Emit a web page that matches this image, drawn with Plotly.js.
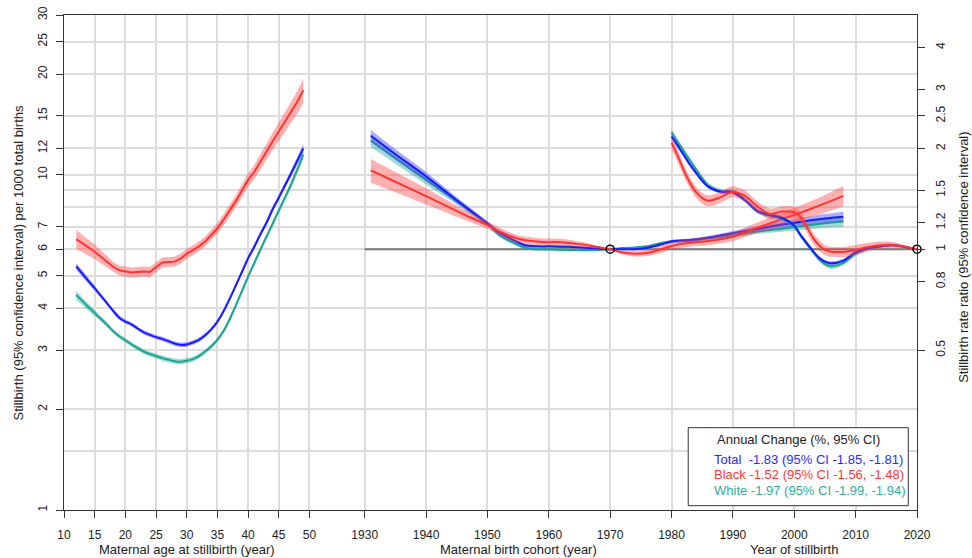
<!DOCTYPE html>
<html><head><meta charset="utf-8">
<script src="https://cdn.plot.ly/plotly-3.0.1.min.js"></script>
<style>html,body{margin:0;padding:0;background:#fff}#chart{width:972px;height:558px}</style>
</head><body><div id="chart"></div><script>
// ---------- DATA ----------
// Maternal age panel: stillbirths per 1000 total births
const ageX = [12,13,14,15,16,17,18,19,20,21,22,23,24,25,26,27,28,29,30,31,32,33,34,35,36,37,38,39,40,41,42,43,44,45,46,47,48,49];
const ageTotal   = [5.33,5.07,4.82,4.59,4.36,4.14,3.93,3.75,3.65,3.58,3.48,3.39,3.33,3.28,3.24,3.19,3.14,3.11,3.12,3.16,3.22,3.32,3.46,3.65,3.92,4.27,4.68,5.13,5.64,6.10,6.65,7.20,7.90,8.55,9.30,10.1,11.0,12.0];
const ageTotalLo = [5.20,4.96,4.72,4.51,4.29,4.08,3.87,3.69,3.60,3.53,3.43,3.34,3.28,3.23,3.19,3.14,3.09,3.06,3.07,3.11,3.17,3.27,3.41,3.60,3.86,4.21,4.60,5.05,5.54,6.00,6.53,7.07,7.74,8.38,9.10,9.86,10.70,11.64];
const ageTotalHi = [5.46,5.18,4.92,4.67,4.43,4.20,3.99,3.81,3.70,3.63,3.53,3.44,3.38,3.33,3.29,3.24,3.19,3.16,3.17,3.21,3.27,3.37,3.51,3.70,3.98,4.33,4.76,5.21,5.74,6.20,6.77,7.33,8.06,8.72,9.50,10.34,11.30,12.36];
const ageBlack   = [6.43,6.26,6.07,5.90,5.70,5.51,5.32,5.19,5.14,5.11,5.13,5.15,5.13,5.30,5.48,5.50,5.51,5.62,5.82,5.96,6.12,6.33,6.62,6.93,7.35,7.82,8.35,8.98,9.66,10.2,10.9,11.75,12.6,13.45,14.4,15.4,16.5,17.9];
const ageBlackLo = [6.01,5.88,5.74,5.61,5.44,5.29,5.13,5.01,4.96,4.93,4.95,4.97,4.95,5.11,5.29,5.31,5.32,5.42,5.62,5.75,5.91,6.11,6.39,6.67,7.06,7.51,8.00,8.58,9.20,9.69,10.32,11.09,11.84,12.59,13.42,14.29,15.23,16.43];
const ageBlackHi = [6.85,6.64,6.40,6.20,5.96,5.73,5.51,5.37,5.32,5.29,5.31,5.33,5.31,5.49,5.67,5.69,5.70,5.82,6.02,6.17,6.33,6.55,6.85,7.19,7.64,8.13,8.70,9.38,10.12,10.71,11.48,12.41,13.36,14.31,15.38,16.51,17.77,19.37];
const ageWhite   = [4.38,4.20,4.03,3.87,3.72,3.57,3.42,3.30,3.21,3.12,3.04,2.97,2.92,2.88,2.84,2.81,2.78,2.77,2.79,2.82,2.88,2.97,3.08,3.22,3.42,3.71,4.08,4.50,4.97,5.45,5.98,6.55,7.15,7.82,8.55,9.35,10.35,11.5];
const ageWhiteLo = [4.25,4.09,3.93,3.79,3.65,3.51,3.37,3.25,3.16,3.07,2.99,2.92,2.87,2.83,2.79,2.76,2.73,2.72,2.74,2.77,2.83,2.92,3.03,3.17,3.36,3.65,4.01,4.43,4.89,5.36,5.88,6.43,7.01,7.66,8.36,9.13,10.08,11.16];
const ageWhiteHi = [4.51,4.31,4.13,3.95,3.79,3.63,3.47,3.35,3.26,3.17,3.09,3.02,2.97,2.93,2.89,2.86,2.83,2.82,2.84,2.87,2.93,3.02,3.13,3.27,3.48,3.77,4.15,4.57,5.05,5.54,6.08,6.67,7.29,7.98,8.74,9.57,10.62,11.84];

// Maternal birth cohort panel: rate ratio (reference cohort 1970)
const cohortX = [1931,1935,1940,1945,1950,1952,1954,1956,1958,1960,1962,1964,1966,1968,1970,1972,1974,1976,1978,1980,1983,1986,1990,1994,1998,2002,2005,2008];
const cohTotal   = [2.18,1.92,1.65,1.40,1.195,1.12,1.07,1.03,1.02,1.02,1.018,1.015,1.01,1.005,1.0,1.0,1.0,1.01,1.03,1.055,1.065,1.082,1.117,1.15,1.185,1.215,1.235,1.25];
const cohTotalLo = [2.09,1.85,1.60,1.37,1.177,1.105,1.057,1.019,1.01,1.01,1.008,1.007,1.004,1.001,1.0,0.996,0.994,1.002,1.02,1.044,1.054,1.069,1.10,1.129,1.159,1.182,1.197,1.206];
const cohTotalHi = [2.27,1.99,1.70,1.43,1.213,1.135,1.083,1.041,1.03,1.03,1.028,1.023,1.016,1.009,1.0,1.004,1.006,1.018,1.04,1.066,1.076,1.095,1.134,1.171,1.211,1.248,1.273,1.294];
const cohBlack   = [1.72,1.59,1.44,1.30,1.18,1.13,1.09,1.065,1.055,1.05,1.05,1.04,1.03,1.015,1.0,0.978,0.97,0.975,0.995,1.023,1.045,1.058,1.09,1.16,1.23,1.305,1.37,1.443];
const cohBlackLo = [1.58,1.48,1.36,1.25,1.15,1.10,1.063,1.038,1.029,1.024,1.026,1.019,1.014,1.005,1.0,0.966,0.951,0.954,0.971,0.997,1.018,1.028,1.057,1.119,1.177,1.237,1.288,1.342];
const cohBlackHi = [1.86,1.70,1.52,1.35,1.21,1.16,1.117,1.092,1.081,1.076,1.074,1.061,1.046,1.025,1.0,0.99,0.989,0.996,1.019,1.049,1.072,1.088,1.123,1.201,1.283,1.373,1.452,1.544];
const cohWhite   = [2.11,1.87,1.61,1.39,1.19,1.10,1.05,1.012,1.0,1.0,0.996,0.994,0.993,0.995,1.0,1.008,1.012,1.02,1.04,1.055,1.06,1.078,1.10,1.13,1.152,1.177,1.195,1.21];
const cohWhiteLo = [2.02,1.80,1.56,1.36,1.172,1.086,1.037,1.001,0.99,0.99,0.986,0.986,0.987,0.991,1.0,1.004,1.006,1.012,1.03,1.044,1.049,1.065,1.084,1.11,1.127,1.145,1.158,1.168];
const cohWhiteHi = [2.20,1.94,1.66,1.42,1.208,1.114,1.063,1.023,1.01,1.01,1.006,1.002,0.999,0.999,1.0,1.012,1.018,1.028,1.05,1.066,1.071,1.091,1.117,1.15,1.177,1.209,1.232,1.252];

// Year of stillbirth panel: rate ratio (reference year 2020)
const periodX = [1980,1981,1982,1983,1984,1985,1986,1988,1990,1992,1994,1996,1998,2000,2001,2002,2003,2004,2005,2006,2008,2010,2012,2014,2016,2018,2020];
const perTotal   = [2.17,2.04,1.91,1.79,1.69,1.60,1.535,1.485,1.48,1.40,1.30,1.265,1.24,1.175,1.105,1.045,0.99,0.945,0.918,0.908,0.925,0.98,1.008,1.02,1.028,1.015,1.0];
const perTotalLo = [2.127,2.003,1.879,1.763,1.666,1.579,1.517,1.467,1.462,1.383,1.284,1.250,1.225,1.161,1.092,1.032,0.978,0.934,0.907,0.897,0.914,0.968,0.998,1.01,1.020,1.01,1.0];
const perTotalHi = [2.213,2.077,1.941,1.817,1.714,1.621,1.553,1.503,1.498,1.417,1.316,1.280,1.255,1.189,1.118,1.058,1.002,0.956,0.929,0.919,0.936,0.992,1.018,1.030,1.036,1.020,1.0];
const perBlack   = [2.08,1.90,1.72,1.58,1.48,1.42,1.395,1.43,1.485,1.44,1.34,1.275,1.295,1.29,1.25,1.17,1.085,1.03,0.995,0.983,0.982,0.995,1.015,1.028,1.03,1.018,1.0];
const perBlackLo = [1.986,1.820,1.651,1.520,1.424,1.366,1.342,1.376,1.429,1.385,1.289,1.227,1.246,1.241,1.203,1.126,1.044,0.991,0.960,0.949,0.948,0.960,0.985,1.002,1.009,1.006,1.0];
const perBlackHi = [2.174,1.980,1.789,1.640,1.536,1.474,1.448,1.484,1.541,1.495,1.391,1.323,1.344,1.339,1.298,1.214,1.126,1.069,1.030,1.017,1.016,1.030,1.045,1.054,1.051,1.030,1.0];
const perWhite   = [2.23,2.09,1.96,1.84,1.73,1.63,1.55,1.49,1.485,1.40,1.30,1.26,1.235,1.17,1.10,1.04,0.985,0.935,0.903,0.889,0.91,0.97,1.005,1.02,1.03,1.015,1.0];
const perWhiteLo = [2.174,2.042,1.919,1.805,1.701,1.604,1.525,1.466,1.461,1.378,1.279,1.240,1.215,1.151,1.082,1.023,0.969,0.920,0.888,0.873,0.895,0.955,0.993,1.010,1.022,1.010,1.0];
const perWhiteHi = [2.286,2.138,2.001,1.875,1.759,1.656,1.575,1.514,1.509,1.422,1.321,1.280,1.255,1.189,1.118,1.057,1.001,0.950,0.918,0.905,0.925,0.985,1.017,1.030,1.038,1.020,1.0];

// Reference line (ratio 1) and reference points
const refLineYears = [1930, 2020];
const refLineRatio = [1, 1];
const refPointYears = [1970, 2020];
const refPointRatio = [1, 1];

// Annual change box
const groupNames = ['Total', 'Black', 'White'];
const annualChange = [-1.83, -1.52, -1.97];
const annualLow = [-1.85, -1.56, -1.99];
const annualHigh = [-1.81, -1.48, -1.94];

// Tick labels
const ageTicks = [10,15,20,25,30,35,40,45,50];
const yearTicks = [1930,1940,1950,1960,1970,1980,1990,2000,2010,2020];
const leftTicks = [1,2,3,4,5,6,7,10,12,15,20,25,30];
const leftGrid = [1.5,2,3,4,5,6,7,8,9,10,12,15,20,25,30];
const ratioTicks = [0.5,0.8,1,1.2,1.5,2,2.5,3,4];

// ---------- DRAWING ----------
const OFFSET = 1871; // years placed to the right of the age panel on one shared axis
const shift = a => a.map(v => v - OFFSET);
const COLORS = {Total:'#1a1aff', Black:'#ff3333', White:'#1fa392'};
const BANDS = {Total:'rgba(70,70,255,0.45)', Black:'rgba(255,70,70,0.42)', White:'rgba(30,170,150,0.42)'};
const TEXTC = {Total:'#2b2bff', Black:'#ff3535', White:'#2aaf9f'};

const traces = [];
// empty trace so that the left tick/label axis (y3) gets drawn
traces.push({x: [], y: [], yaxis:'y3', mode:'lines', hoverinfo:'skip', showlegend:false});

function addSeries(xs, mid, lo, hi, name, yaxis, shape) {
  traces.push({x: xs, y: lo, yaxis, mode:'lines', line:{width:0, shape, smoothing:0.8}, hoverinfo:'skip', showlegend:false});
  traces.push({x: xs, y: hi, yaxis, mode:'lines', line:{width:0, shape, smoothing:0.8}, fill:'tonexty', fillcolor:BANDS[name], hoverinfo:'skip', showlegend:false});
  traces.push({x: xs, y: mid, yaxis, mode:'lines', line:{color:COLORS[name], width:2, shape, smoothing:0.8}, name, showlegend:false});
}
traces.push({x: shift(refLineYears), y: refLineRatio, yaxis:'y2', mode:'lines', line:{color:'#777', width:2}, hoverinfo:'skip', showlegend:false});

addSeries(ageX, ageWhite, ageWhiteLo, ageWhiteHi, 'White', 'y', 'spline');
addSeries(ageX, ageTotal, ageTotalLo, ageTotalHi, 'Total', 'y', 'spline');
addSeries(ageX, ageBlack, ageBlackLo, ageBlackHi, 'Black', 'y', 'linear');

const cx = shift(cohortX), px = shift(periodX);
addSeries(cx, cohWhite, cohWhiteLo, cohWhiteHi, 'White', 'y2', 'spline');
addSeries(cx, cohTotal, cohTotalLo, cohTotalHi, 'Total', 'y2', 'spline');
addSeries(cx, cohBlack, cohBlackLo, cohBlackHi, 'Black', 'y2', 'spline');
addSeries(px, perWhite, perWhiteLo, perWhiteHi, 'White', 'y2', 'spline');
addSeries(px, perTotal, perTotalLo, perTotalHi, 'Total', 'y2', 'spline');
addSeries(px, perBlack, perBlackLo, perBlackHi, 'Black', 'y2', 'spline');

traces.push({x: shift(refPointYears), y: refPointRatio, yaxis:'y2', mode:'markers', cliponaxis:false,
  marker:{symbol:'circle-open', size:8, color:'#111', line:{width:1.6, color:'#111'}}, hoverinfo:'skip', showlegend:false});

const FONT = 'Liberation Sans, Arial, Helvetica, sans-serif';
const xTickVals = ageTicks.concat(shift(yearTicks));
const xTickText = ageTicks.map(String).concat(yearTicks.map(String));

const fmt = v => v.toFixed(2);
const A = (o) => Object.assign({showarrow:false, xanchor:'center', yanchor:'middle'}, o);
const annotations = [
  A({xref:'x', yref:'paper', x:30, y:-0.0788, text:'Maternal age at stillbirth (year)', font:{size:13}}),
  A({xref:'x', yref:'paper', x:1955-OFFSET, y:-0.0788, text:'Maternal birth cohort (year)', font:{size:13}}),
  A({xref:'x', yref:'paper', x:2000-OFFSET, y:-0.0788, text:'Year of stillbirth', font:{size:13}}),
  A({xref:'paper', yref:'paper', x:-0.0539, y:0.5, textangle:-90, text:'Stillbirth (95% confidence interval) per 1000 total births', font:{size:13}}),
  A({xref:'paper', yref:'paper', x:1.0543, y:0.51, textangle:-90, text:'Stillbirth rate ratio (95% confidence interval)', font:{size:13}}),
  A({xref:'paper', yref:'paper', x:0.8608, y:0.1428, text:'Annual Change (%, 95% CI)', font:{size:13, color:'#222'}})
];
const lineY = [0.1030, 0.0713, 0.0398];
groupNames.forEach((g, i) => {
  const pad = g === 'Total' ? '\u00a0\u00a0' : ' ';
  annotations.push(A({xref:'paper', yref:'paper', x:0.7596, y:lineY[i], xanchor:'left',
    text: g + pad + fmt(annualChange[i]) + ' (95% CI ' + fmt(annualLow[i]) + ', ' + fmt(annualHigh[i]) + ')',
    font:{size:13, color:TEXTC[g]}}));
});

const GRID = '#dcdcdc';
const layout = {
  width:972, height:558,
  margin:{l:64, r:55, t:15, b:48},
  paper_bgcolor:'#fff', plot_bgcolor:'#fff',
  font:{family:FONT, size:12, color:'#222'},
  showlegend:false,
  xaxis:{range:[10, 149], tickmode:'array', tickvals:xTickVals, ticktext:xTickText, tickangle:0,
    showgrid:true, gridcolor:GRID, gridwidth:2, zeroline:false,
    showline:true, linecolor:'#333', linewidth:1, mirror:true,
    ticks:'outside', ticklen:7, tickcolor:'#333', tickfont:{size:12}, ticklabelstandoff:7},
  // main left axis: grid lines only
  yaxis:{type:'log', range:[0, Math.log10(30)], tickmode:'array', tickvals:leftGrid,
    showticklabels:false, ticks:'', showgrid:true, gridcolor:GRID, gridwidth:2, zeroline:false,
    showline:true, linecolor:'#333', linewidth:1},
  // left ticks and labels
  yaxis3:{type:'log', overlaying:'y', side:'left', anchor:'x', range:[0, Math.log10(30)], tickmode:'array',
    tickvals:leftTicks, ticktext:leftTicks.map(String), tickangle:-90, showgrid:false, zeroline:false, showline:false,
    ticks:'outside', ticklen:7, tickcolor:'#333', tickfont:{size:12}, ticklabelstandoff:4},
  yaxis2:{type:'log', overlaying:'y', side:'right', anchor:'x', range:[Math.log10(1/6), Math.log10(5)],
    tickmode:'array', tickvals:ratioTicks, ticktext:ratioTicks.map(String), tickangle:-90,
    showgrid:false, zeroline:false, showline:true, linecolor:'#333', linewidth:1,
    ticks:'outside', ticklen:7, tickcolor:'#333', tickfont:{size:12}, ticklabelstandoff:6},
  shapes:[{type:'rect', xref:'paper', yref:'paper', x0:0.7318, x1:0.9898, y0:0.0087, y1:0.1663,
    line:{color:'#333', width:1}, fillcolor:'#fff', layer:'above'}],
  annotations
};
Plotly.newPlot('chart', traces, layout, {staticPlot:true, displayModeBar:false});
</script></body></html>
